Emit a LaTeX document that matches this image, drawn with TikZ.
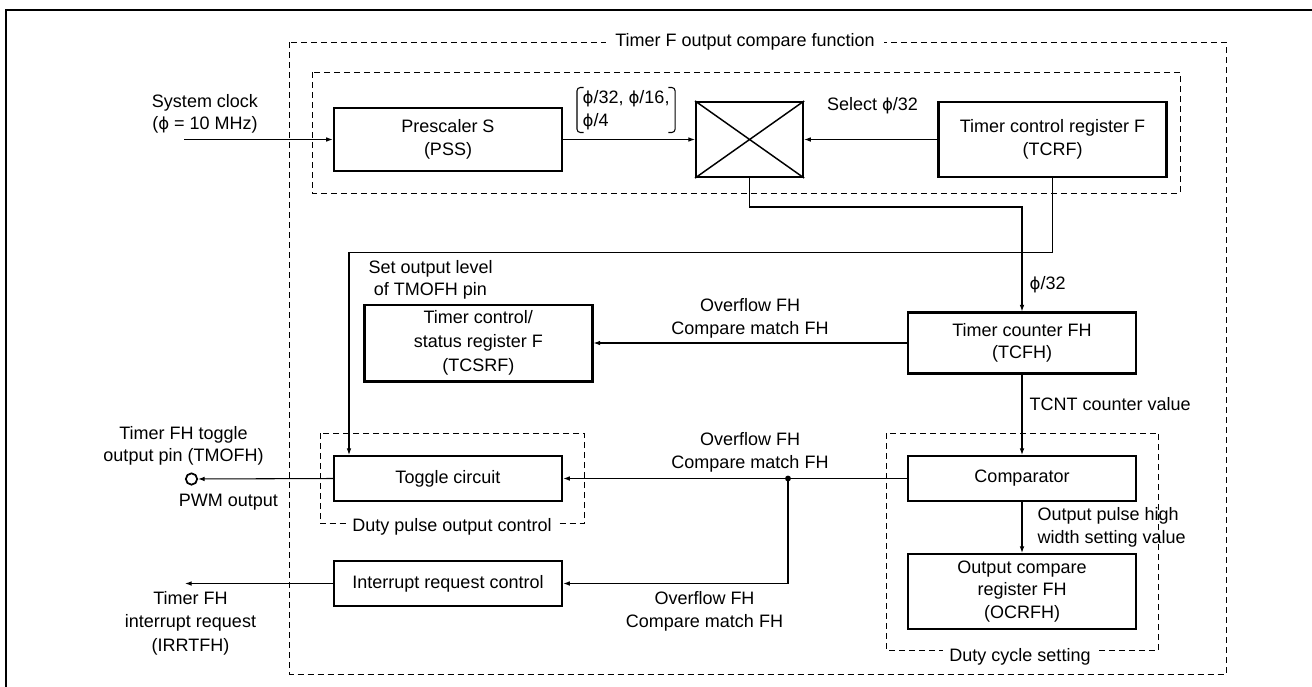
\documentclass[tikz,border=0pt]{standalone}
\usepackage{fontspec}
\setmainfont{Liberation Sans}
\newfontfamily\phifont{DejaVu Sans}[Scale=0.92]
\newcommand{\fphi}{{\phifont ϕ}}
\usetikzlibrary{arrows.meta}

\begin{document}
\begin{tikzpicture}[x=0.75pt, y=-0.75pt,
    block/.style={draw, line width=1.8pt, inner sep=0pt, align=center,
      minimum width=171pt},
    area/.style={draw, dash pattern=on 4.5pt off 3pt, line width=0.75pt},
    tag/.style={align=center, inner sep=1pt},
    wire/.style={line width=0.8pt},
    >={Latex[length=5pt,width=3.5pt]},
    font=\fontsize{13.5}{17}\selectfont]
    \useasboundingbox (0,0) rectangle (1312,686);
    \draw[line width=1.9pt] (6,690) -- (6,10) -- (1316,10);

    % dashed areas
    \draw[area] (289.5,42) rectangle (1226,674);
    \draw[area] (312,72) rectangle (1180,193);
    \draw[area] (320,433) rectangle (584,523.5);
    \draw[area] (886.5,433) rectangle (1158.5,650.5);
    \node[tag, fill=white, inner xsep=7pt] (ttl) at (745,42) {Timer F output compare function};
    \node[tag, fill=white, inner xsep=5pt] (dpoc) at (452,527) {Duty pulse output control};
    \node[tag, fill=white, inner xsep=5pt] (dcs) at (1020,656.5) {Duty cycle setting};

    \node[block, minimum height=47pt] (pss) at (448,139.5) {Prescaler S\\(PSS)};
    \node[block, minimum width=80pt, minimum height=56pt] (mux) at (749.6,139.5) {};
    \node[block, minimum height=56pt] (tcrf) at (1052.5,139.5) {Timer control register F\\(TCRF)};
    \node[block, minimum height=57.5pt, font=\fontsize{13.5}{18}\selectfont] (tcsrf) at (478.3,343.3)
      {Timer control/\\status register F\\(TCSRF)};
    \node[block, minimum height=45.5pt] (tcfh) at (1022,343) {Timer counter FH\\(TCFH)};
    \node[block, minimum height=33.5pt] (toggle) at (448,478.5) {Toggle circuit};
    \node[block, minimum height=33.5pt] (irq) at (448,583.5) {Interrupt request control};
    \node[block, minimum height=33.5pt] (cmp) at (1022,478.5) {Comparator};
    \node[block, minimum height=56pt] (ocrfh) at (1022,591.5) {Output compare\\register FH\\(OCRFH)};
    \node[circle, draw, line width=1.3pt, minimum size=8.5pt, inner sep=0pt] (pin) at (191.5,479) {};

    \coordinate (clk) at (184,139.5);
    \coordinate (irqout) at (185,583.5);
    \coordinate (dot) at (788,478.5);
    \coordinate (selbend) at (1022,207);
    \coordinate (lvlbend) at (349,252.5);

    \draw[line width=1.1pt] (mux.north west) -- (mux.south east) (mux.north east) -- (mux.south west);
    \draw[wire,->] (clk) -- (pss);
    \draw[wire,->] (pss) -- (mux);
    \draw[wire,->] (tcrf) -- (mux);
    \draw[wire,->] (mux.south) |- (selbend) -- (tcfh.north);
    \draw[wire,->] (tcrf.south) |- (lvlbend) -- (lvlbend |- toggle.north);
    \draw[wire,->] (tcfh.west) -- (tcfh.west -| tcsrf.east);
    \draw[wire,->] (tcfh) -- (cmp);
    \draw[wire,->] (cmp) -- (ocrfh);
    \draw[wire,->] (cmp.west) -- (toggle.east);
    \fill (dot) circle (2.2pt);
    \draw[wire,->] (dot) |- (irq.east);
    \draw[wire,->] (toggle.west) -- (pin);
    \draw[wire,->] (irq.west) -- (irqout);

    % signal labels
    \node[tag] (clklbl) at (205,114) {System clock\\(\fphi{} = 10 MHz)};
    \node[tag, align=left, anchor=west, inner xsep=4pt, inner ysep=2pt] (divlbl) at (577,110)
      {\fphi/32, \fphi/16,\\\fphi/4};
    \draw[wire, rounded corners=2.5pt] ([xshift=5pt]divlbl.north west) -- (divlbl.north west)
      -- (divlbl.south west) -- ([xshift=5pt]divlbl.south west);
    \draw[wire, rounded corners=2.5pt] ([xshift=-5pt]divlbl.north east) -- (divlbl.north east)
      -- (divlbl.south east) -- ([xshift=-5pt]divlbl.south east);
    \node[tag] (sellbl) at (872.5,106) {Select \fphi/32};
    \node[tag, anchor=west] (dvlbl) at (1028,285) {\fphi/32};
    \node[tag, anchor=west, align=left] (lvllbl) at (367,280) {Set output level\\\hspace*{4pt}of TMOFH pin};
    \node[tag] (ovf1) at (750,318.5) {Overflow FH\\Compare match FH};
    \node[tag, anchor=west] (cntlbl) at (1028,404) {TCNT counter value};
    \node[tag] (ovf2) at (750,452.5) {Overflow FH\\Compare match FH};
    \node[tag] (ovf3) at (704.5,611) {Overflow FH\\Compare match FH};
    \node[tag, anchor=west, align=left] (pulselbl) at (1036,527.5) {Output pulse high\\width setting value};
    \node[tag] (pinlbl) at (183.5,446) {Timer FH toggle\\output pin (TMOFH)};
    \node[tag] (pwmlbl) at (228.5,502) {PWM output};
    \node[tag, font=\fontsize{13.5}{17.5}\selectfont] (irqlbl) at (190.5,623)
      {Timer FH\\interrupt request\\(IRRTFH)};
\end{tikzpicture}
\end{document}
